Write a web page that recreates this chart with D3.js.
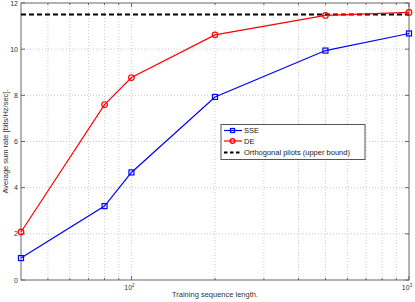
<!DOCTYPE html>
<html>
<head>
<meta charset="utf-8">
<script src="https://cdn.jsdelivr.net/npm/d3@7"></script>
<style>
  body { margin: 0; background: #fff; }
  text { font-family: "Liberation Sans", Arial, sans-serif; }
</style>
</head>
<body>
<div id="chart"></div>
<script>
// data
const lengths = [40, 80, 100, 200, 500, 1000];
const sse = [0.95, 3.2, 4.66, 7.93, 9.94, 10.68];
const de = [2.08, 7.6, 8.77, 10.62, 11.46, 11.59];
const upperBound = 11.5;
const yTicks = [0, 2, 4, 6, 8, 10, 12];
const xMinor = [50, 60, 70, 80, 90, 100, 200, 300, 400, 500, 600, 700, 800, 900, 1000];
const xMajor = [100, 1000];

const width = 415, height = 302;
const pLeft = 21, pRight = 409, pTop = 3, pBottom = 280;

const svg = d3.select("#chart").append("svg")
  .attr("width", width)
  .attr("height", height);

const x = d3.scaleLog().domain([40, 1000]).range([pLeft, pRight]);
const y = d3.scaleLinear().domain([0, 12]).range([pBottom, pTop]);

// grid
const grid = svg.append("g").attr("stroke", "#bdbdbd").attr("stroke-width", 0.8)
  .attr("stroke-dasharray", "1,2");
grid.selectAll(".gx").data(xMinor.filter(d => d < 1000)).join("line")
  .attr("x1", d => x(d)).attr("x2", d => x(d))
  .attr("y1", pTop).attr("y2", pBottom);
grid.selectAll(".gy").data(yTicks.slice(1, -1)).join("line")
  .attr("x1", pLeft).attr("x2", pRight)
  .attr("y1", d => y(d)).attr("y2", d => y(d));

// frame
svg.append("rect").attr("x", pLeft).attr("y", pTop)
  .attr("width", pRight - pLeft).attr("height", pBottom - pTop)
  .attr("fill", "none").attr("stroke", "#666").attr("stroke-width", 1);

// ticks (inward, all sides)
const tk = svg.append("g").attr("stroke", "#666").attr("stroke-width", 1);
yTicks.forEach(v => {
  tk.append("line").attr("x1", pLeft).attr("x2", pLeft + 4).attr("y1", y(v)).attr("y2", y(v));
  tk.append("line").attr("x1", pRight).attr("x2", pRight - 4).attr("y1", y(v)).attr("y2", y(v));
});
xMinor.forEach(v => {
  const len = xMajor.includes(v) ? 4 : 2;
  tk.append("line").attr("x1", x(v)).attr("x2", x(v)).attr("y1", pBottom).attr("y2", pBottom - len);
  tk.append("line").attr("x1", x(v)).attr("x2", x(v)).attr("y1", pTop).attr("y2", pTop + len);
});

// tick labels
svg.append("g").selectAll("text").data(yTicks).join("text")
  .attr("x", pLeft - 3).attr("y", d => y(d) + 2.5)
  .attr("text-anchor", "end").attr("font-size", 7).attr("fill", "#333")
  .text(d => d);
const xl = svg.append("g").selectAll("text").data(xMajor).join("text")
  .attr("x", d => x(d) - 2).attr("y", pBottom + 10)
  .attr("text-anchor", "middle").attr("font-size", 7).attr("fill", "#333");
xl.append("tspan").text("10");
xl.append("tspan").attr("dy", -3).attr("font-size", 4.5).text(d => Math.round(Math.log10(d)));

// axis titles
svg.append("text").attr("x", 215).attr("y", 297).attr("text-anchor", "middle")
  .attr("font-size", 7.5).attr("fill", "#333").text("Training sequence length.");
svg.append("text").attr("transform", `translate(8,${(pTop + pBottom) / 2}) rotate(-90)`)
  .attr("text-anchor", "middle").attr("font-size", 7.5).attr("fill", "#333")
  .text("Average sum rate [bits/Hz/sec].");

// upper bound
svg.append("line").attr("x1", pLeft).attr("x2", pRight)
  .attr("y1", y(upperBound)).attr("y2", y(upperBound))
  .attr("stroke", "#000").attr("stroke-width", 2).attr("stroke-dasharray", "5,3");

const line = d3.line().x(d => x(d[0])).y(d => y(d[1]));

// DE
svg.append("path").datum(d3.zip(lengths, de)).attr("d", line)
  .attr("fill", "none").attr("stroke", "#ff0000").attr("stroke-width", 1.2);
svg.append("g").selectAll("circle").data(d3.zip(lengths, de)).join("circle")
  .attr("cx", d => x(d[0])).attr("cy", d => y(d[1])).attr("r", 2.8)
  .attr("fill", "none").attr("stroke", "#ff0000").attr("stroke-width", 1.2);

// SSE
svg.append("path").datum(d3.zip(lengths, sse)).attr("d", line)
  .attr("fill", "none").attr("stroke", "#0000ff").attr("stroke-width", 1.2);
svg.append("g").selectAll("rect").data(d3.zip(lengths, sse)).join("rect")
  .attr("x", d => x(d[0]) - 2.5).attr("y", d => y(d[1]) - 2.5)
  .attr("width", 5).attr("height", 5)
  .attr("fill", "none").attr("stroke", "#0000ff").attr("stroke-width", 1.2);

// legend
const lg = svg.append("g");
lg.append("rect").attr("x", 221).attr("y", 124.5).attr("width", 144).attr("height", 35)
  .attr("fill", "#fff").attr("stroke", "#555").attr("stroke-width", 1);
const items = [
  { name: "SSE", color: "#0000ff", marker: "square", y: 130.5 },
  { name: "DE", color: "#ff0000", marker: "circle", y: 141 },
  { name: "Orthogonal pilots (upper bound)", color: "#000", marker: "none", y: 152.5 }
];
items.forEach(it => {
  const l = lg.append("line").attr("x1", 224).attr("x2", 242)
    .attr("y1", it.y).attr("y2", it.y).attr("stroke", it.color)
    .attr("stroke-width", it.marker === "none" ? 2 : 1.2);
  if (it.marker === "none") l.attr("stroke-dasharray", "3.5,2.5");
  if (it.marker === "square") lg.append("rect").attr("x", 230.5).attr("y", it.y - 2)
    .attr("width", 4).attr("height", 4).attr("fill", "none").attr("stroke", it.color).attr("stroke-width", 1.2);
  if (it.marker === "circle") lg.append("circle").attr("cx", 232.5).attr("cy", it.y)
    .attr("r", 2.4).attr("fill", "none").attr("stroke", it.color).attr("stroke-width", 1.2);
  lg.append("text").attr("x", 244).attr("y", it.y + 2.6).attr("font-size", 7.5)
    .attr("fill", "#222").text(it.name);
});
</script>
</body>
</html>
